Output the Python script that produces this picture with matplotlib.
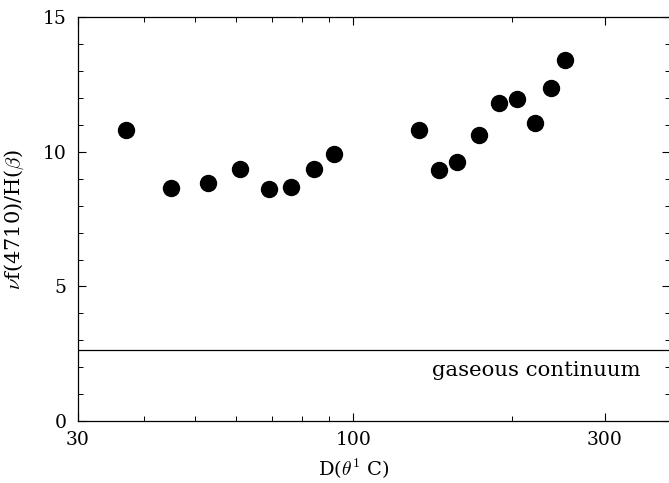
import matplotlib
matplotlib.use("Agg")
import matplotlib.pyplot as plt
from matplotlib.ticker import FixedLocator, NullFormatter, MultipleLocator

plt.rcParams['font.family'] = ['DejaVu Serif']
plt.rcParams['mathtext.fontset'] = 'cm'

# aperture size vs. continuum ratio
diameter = [37.0, 45.1, 53.0, 61.0, 69.2, 76.2, 84.1, 91.8,
            133.1, 145.7, 157.4, 173.5, 188.8, 204.3, 221.0, 237.0, 252.8]
ratio = [10.82, 8.65, 8.84, 9.37, 8.61, 8.69, 9.36, 9.91,
         10.82, 9.33, 9.62, 10.64, 11.83, 11.97, 11.07, 12.37, 13.42]

gas_level = 2.63
x_ticks = [30, 100, 300]
x_minor = [40, 50, 60, 70, 80, 90, 200, 400]
y_ticks = [0, 5, 10, 15]

fig = plt.figure(figsize=(6.69, 4.83), dpi=100)
ax = fig.add_axes([77.7 / 669, (483 - 421) / 483, (670.5 - 77.7) / 669, (421 - 17.3) / 483])

ax.plot(diameter, ratio, 'o', color='black', markersize=11.5, clip_on=False)
ax.axhline(gas_level, color='black', lw=0.9)
ax.text(141, 1.86, 'gaseous continuum', fontsize=15.3, va='center', ha='left')

ax.set_xscale('log')
ax.set_xlim(30, 400)
ax.set_ylim(0, 15)
ax.xaxis.set_major_locator(FixedLocator(x_ticks))
ax.xaxis.set_major_formatter(plt.FuncFormatter(lambda v, p: '%d' % v))
ax.xaxis.set_minor_locator(FixedLocator(x_minor))
ax.xaxis.set_minor_formatter(NullFormatter())
ax.yaxis.set_major_locator(FixedLocator(y_ticks))
ax.yaxis.set_minor_locator(MultipleLocator(1))

ax.tick_params(which='both', direction='in', top=True, right=True, labelsize=13.5)
ax.tick_params(which='major', length=6, width=0.8)
ax.tick_params(which='minor', length=3.5, width=0.7)
ax.tick_params(axis='x', pad=7)
ax.tick_params(axis='y', pad=8)
for s in ax.spines.values():
    s.set_linewidth(0.9)

ax.set_xlabel(r'D($\theta^1$ C)', fontsize=14)
ax.xaxis.set_label_coords((354 - 77.7) / (670.5 - 77.7), -0.09)
ax.set_ylabel(r'$\nu$f(4710)/H($\beta$)', fontsize=15)
ax.yaxis.set_label_coords(-(77.7 - 26) / (670.5 - 77.7), 0.5)

fig.savefig('out.png', dpi=100)
